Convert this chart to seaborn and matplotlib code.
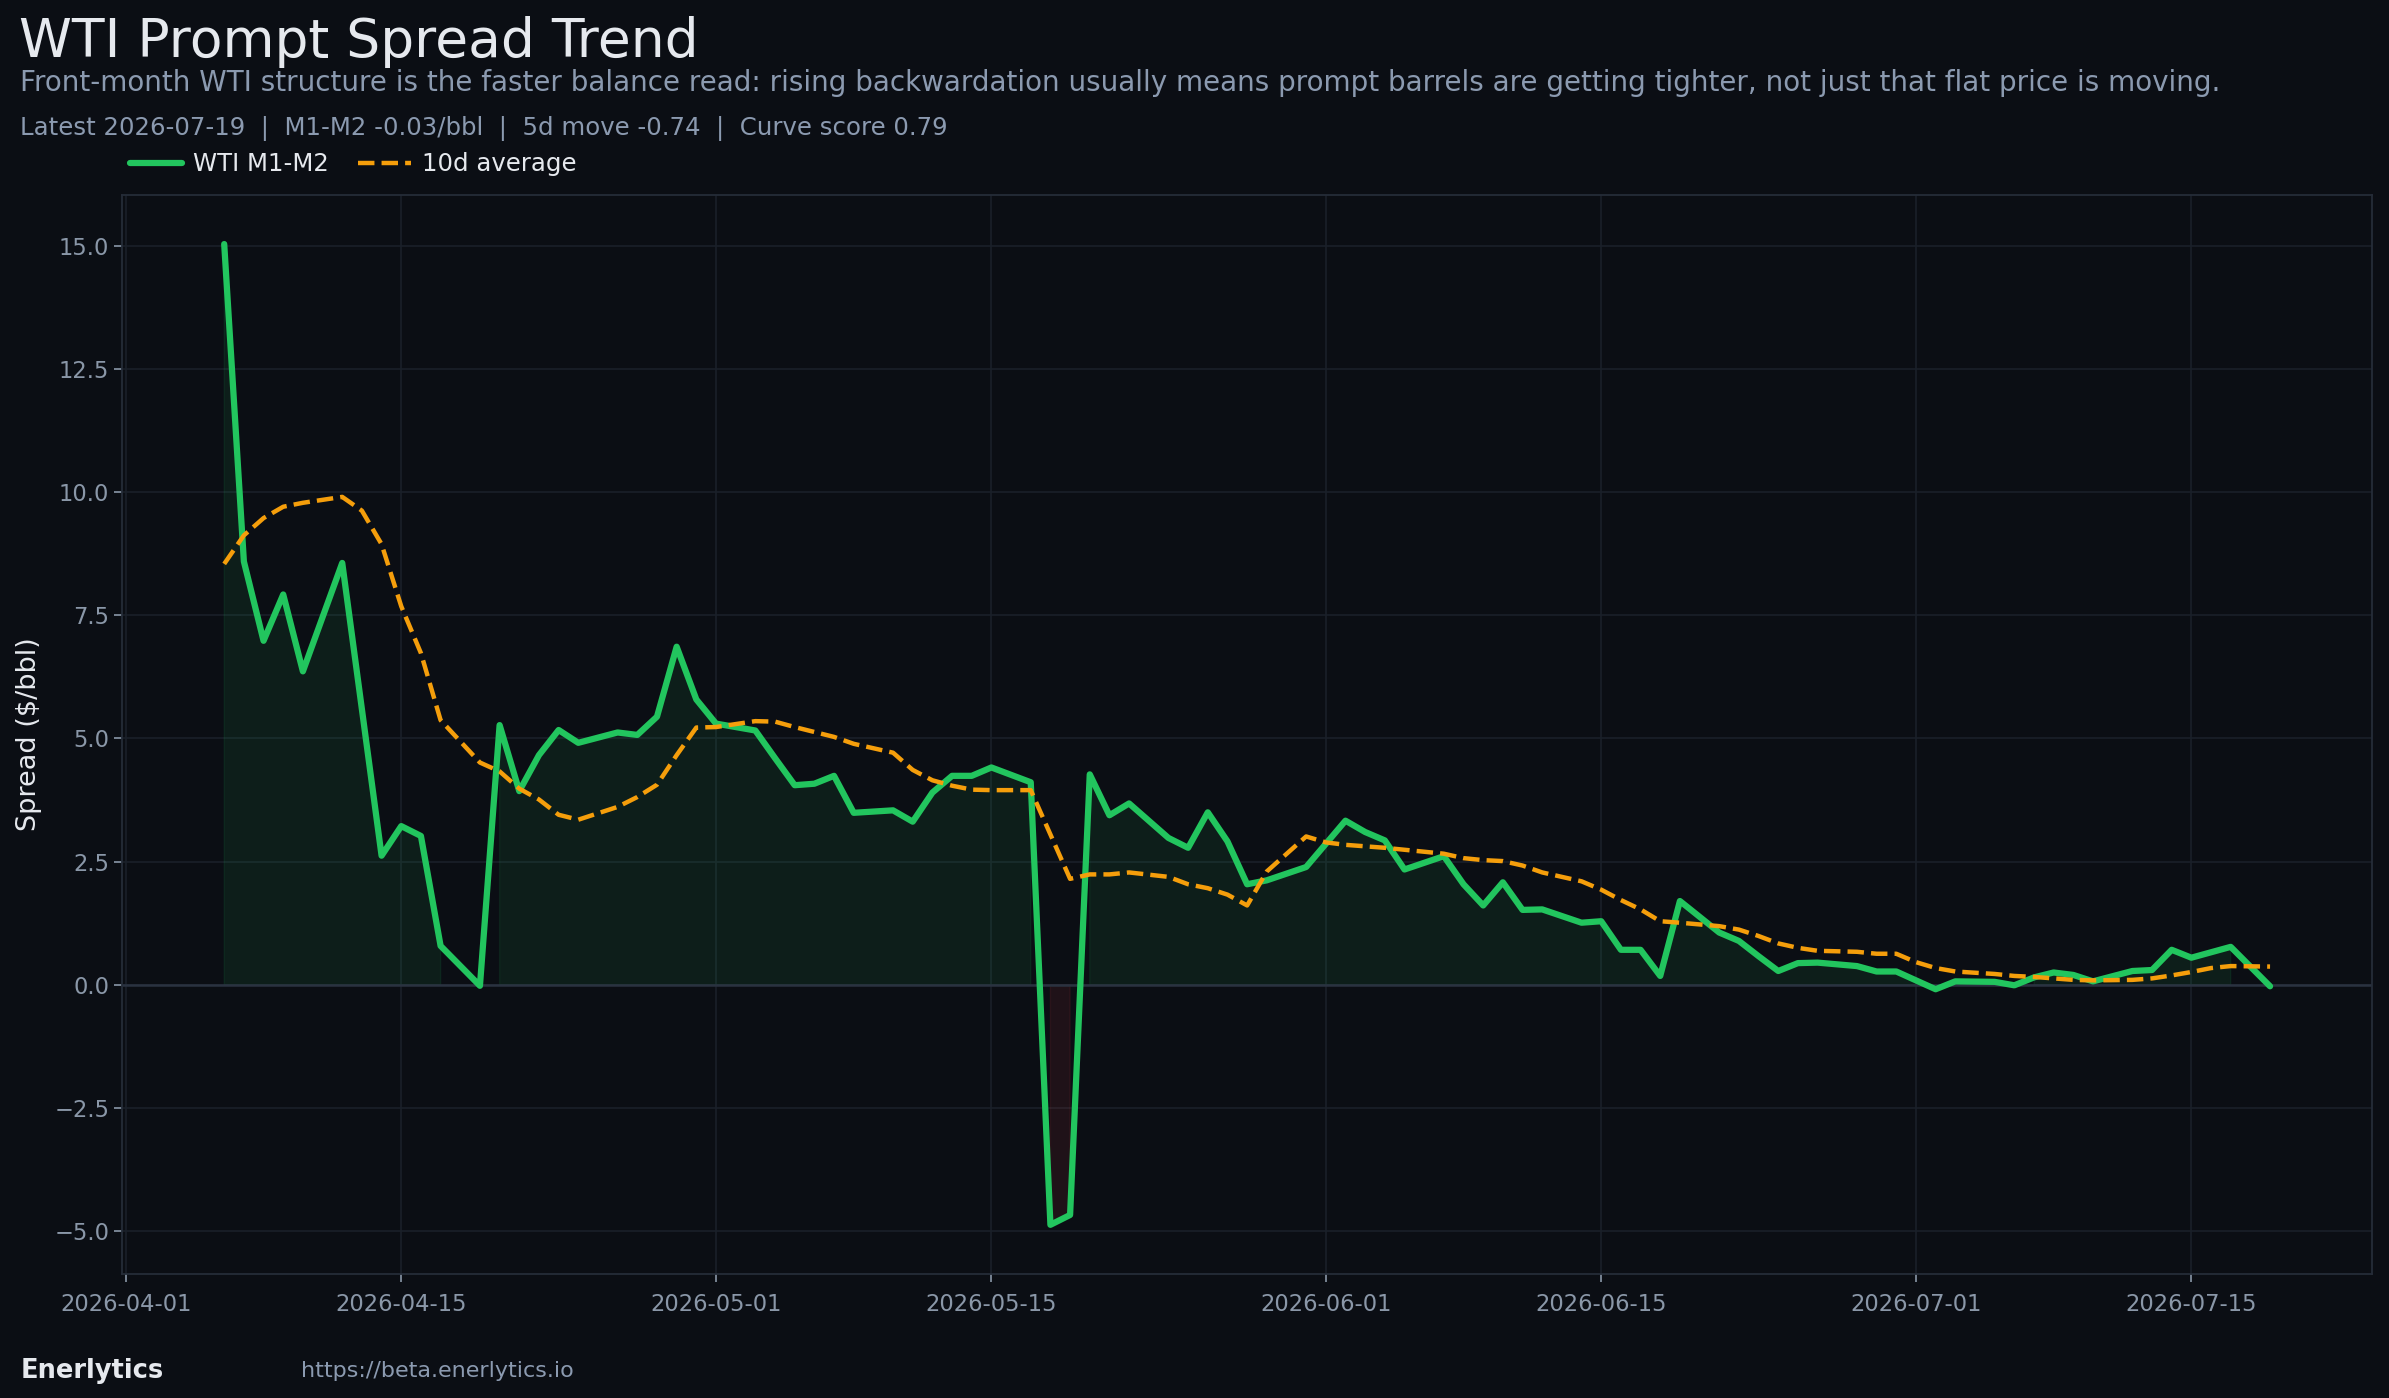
import matplotlib
matplotlib.use("Agg")
import matplotlib.pyplot as plt
import matplotlib.dates as mdates
from matplotlib.lines import Line2D
import pandas as pd
import seaborn as sns

# ---------------- data ----------------
dates = [
    "2026-04-06", "2026-04-07", "2026-04-08", "2026-04-09", "2026-04-10", "2026-04-12",
    "2026-04-13", "2026-04-14", "2026-04-15", "2026-04-16", "2026-04-17", "2026-04-19",
    "2026-04-20", "2026-04-21", "2026-04-22", "2026-04-23", "2026-04-24", "2026-04-26",
    "2026-04-27", "2026-04-28", "2026-04-29", "2026-04-30", "2026-05-01", "2026-05-03",
    "2026-05-04", "2026-05-05", "2026-05-06", "2026-05-07", "2026-05-08", "2026-05-10",
    "2026-05-11", "2026-05-12", "2026-05-13", "2026-05-14", "2026-05-15", "2026-05-17",
    "2026-05-18", "2026-05-19", "2026-05-20", "2026-05-21", "2026-05-22", "2026-05-24",
    "2026-05-25", "2026-05-26", "2026-05-27", "2026-05-28", "2026-05-29", "2026-05-31",
    "2026-06-01", "2026-06-02", "2026-06-03", "2026-06-04", "2026-06-05", "2026-06-07",
    "2026-06-08", "2026-06-09", "2026-06-10", "2026-06-11", "2026-06-12", "2026-06-14",
    "2026-06-15", "2026-06-16", "2026-06-17", "2026-06-18", "2026-06-19", "2026-06-21",
    "2026-06-22", "2026-06-23", "2026-06-24", "2026-06-25", "2026-06-26", "2026-06-28",
    "2026-06-29", "2026-06-30", "2026-07-01", "2026-07-02", "2026-07-03", "2026-07-05",
    "2026-07-06", "2026-07-07", "2026-07-08", "2026-07-09", "2026-07-10", "2026-07-12",
    "2026-07-13", "2026-07-14", "2026-07-15", "2026-07-16", "2026-07-17", "2026-07-19",
]

spread = [
    15.03, 8.59, 6.98, 7.92, 6.36, 8.56,
    5.59, 2.62, 3.22, 3.02, 0.79, -0.02,
    5.27, 3.93, 4.66, 5.17, 4.91, 5.12,
    5.07, 5.44, 6.86, 5.79, 5.30, 5.16,
    4.60, 4.05, 4.08, 4.24, 3.49, 3.54,
    3.31, 3.90, 4.24, 4.24, 4.41, 4.11,
    -4.87, -4.67, 4.27, 3.44, 3.68, 2.98,
    2.78, 3.50, 2.91, 2.04, 2.12, 2.39,
    2.86, 3.33, 3.10, 2.93, 2.34, 2.61,
    2.04, 1.61, 2.08, 1.52, 1.53, 1.26,
    1.29, 0.71, 0.71, 0.18, 1.70, 1.06,
    0.89, 0.58, 0.28, 0.44, 0.45, 0.38,
    0.27, 0.27, 0.09, -0.09, 0.07, 0.06,
    -0.01, 0.15, 0.25, 0.20, 0.07, 0.28,
    0.30, 0.71, 0.55, 0.66, 0.77, -0.03,
]

avg10 = [
    8.54, 9.12, 9.47, 9.70, 9.78, 9.90,
    9.62, 8.94, 7.68, 6.73, 5.37, 4.51,
    4.33, 3.98, 3.76, 3.45, 3.35, 3.61,
    3.81, 4.06, 4.66, 5.22, 5.23, 5.35,
    5.34, 5.23, 5.13, 5.03, 4.89, 4.71,
    4.36, 4.15, 4.04, 3.96, 3.95, 3.95,
    3.05, 2.15, 2.24, 2.24, 2.28, 2.19,
    2.04, 1.96, 1.83, 1.61, 2.30, 3.01,
    2.89, 2.84, 2.81, 2.78, 2.74, 2.66,
    2.57, 2.53, 2.51, 2.42, 2.28, 2.10,
    1.93, 1.72, 1.53, 1.29, 1.26, 1.19,
    1.12, 0.99, 0.84, 0.75, 0.69, 0.67,
    0.63, 0.63, 0.46, 0.34, 0.27, 0.22,
    0.18, 0.16, 0.13, 0.10, 0.09, 0.10,
    0.13, 0.19, 0.26, 0.34, 0.38, 0.37,
]

series_labels = ["WTI M1-M2", "10d average"]
title = "WTI Prompt Spread Trend"
subtitle = ("Front-month WTI structure is the faster balance read: rising backwardation usually "
            "means prompt barrels are getting tighter, not just that flat price is moving.")
meta = "Latest 2026-07-19  |  M1-M2 -0.03/bbl  |  5d move -0.74  |  Curve score 0.79"
ylabel = "Spread ($/bbl)"
brand = "Enerlytics"
url = "https://beta.enerlytics.io"

# ---------------- style ----------------
BG = "#0b0e14"
GREEN = "#22c55e"
ORANGE = "#f59e0b"
RED = "#ef4444"
GRID = "#1a2029"
SPINE = "#252c38"
TXT = "#e6e9ee"
MUTED = "#8b9ab0"
TICK = "#8a97a8"

sns.set_theme(style="dark", rc={
    "axes.facecolor": BG,
    "figure.facecolor": BG,
    "axes.edgecolor": SPINE,
    "grid.color": GRID,
})
plt.rcParams["font.family"] = ["DejaVu Sans"]
plt.rcParams["axes.unicode_minus"] = True

df = pd.DataFrame({"date": pd.to_datetime(dates), "spread": spread, "avg10": avg10})

fig = plt.figure(figsize=(23.89, 13.98), dpi=100, facecolor=BG)
ax = fig.add_axes([0.05103, 0.0888, 0.9420, 0.7717])
ax.set_facecolor(BG)

# fills
ax.fill_between(df["date"], df["spread"], 0, where=df["spread"] > 0,
                color=GREEN, alpha=0.09, zorder=1)
ax.fill_between(df["date"], df["spread"], 0, where=df["spread"] < 0,
                color=RED, alpha=0.09, zorder=1)

ax.axhline(0, color="#2a3240", lw=1.8, zorder=1.5)

sns.lineplot(data=df, x="date", y="spread", ax=ax, color=GREEN, lw=4.5,
             zorder=3, legend=False)
sns.lineplot(data=df, x="date", y="avg10", ax=ax, color=ORANGE, lw=3.2,
             linestyle="--", zorder=4, legend=False)

ax.grid(True, color=GRID, lw=1.2, zorder=0)
ax.set_axisbelow(True)
for s in ax.spines.values():
    s.set_color(SPINE)
    s.set_linewidth(1.3)
    s.set_visible(True)

ax.xaxis.set_major_locator(mdates.DayLocator(bymonthday=[1, 15]))
ax.xaxis.set_major_formatter(mdates.DateFormatter("%Y-%m-%d"))
ax.tick_params(axis="both", colors=TICK, labelsize=16.3, length=5.5, width=1.2,
               bottom=True, left=True)
ax.tick_params(axis="x", pad=8)
ax.set_xlabel("")
ax.set_ylabel(ylabel, color=TXT, fontsize=19.5)
ax.yaxis.set_label_coords(-0.0355, 0.5)

# header
fig.text(0.008, 0.959, title, fontsize=38.5, color=TXT, va="baseline", ha="left")
fig.text(0.0085, 0.9351, subtitle, fontsize=20, color=MUTED, va="baseline", ha="left")
fig.text(0.0085, 0.9034, meta, fontsize=17.6, color=MUTED, va="baseline", ha="left")

handles = [Line2D([0], [0], color=GREEN, lw=4.5),
           Line2D([0], [0], color=ORANGE, lw=3.2, linestyle="--")]
fig.legend(handles, series_labels, loc="center left", bbox_to_anchor=(0.0450, 0.8826),
           ncol=2, frameon=False, fontsize=17.6, handlelength=2.15, handletextpad=0.45,
           columnspacing=1.2, labelcolor=TXT)

# footer
fig.text(0.0085, 0.0193, brand, fontsize=18.5, fontweight="bold", color=TXT,
         va="center", ha="left")
fig.text(0.126, 0.0193, url, fontsize=16, color=MUTED, va="center", ha="left")

fig.savefig("out.png", dpi=100, facecolor=BG)
